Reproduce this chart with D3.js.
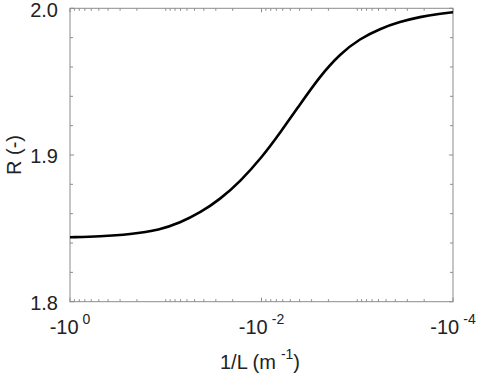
<!DOCTYPE html>
<html>
<head>
<meta charset="utf-8">
<script src="https://cdn.jsdelivr.net/npm/d3@7"></script>
<style>
  body { margin: 0; background: #fff; }
  text { font-family: "Liberation Sans", Arial, sans-serif; fill: #222; }
</style>
</head>
<body>
<svg width="479" height="374"></svg>
<script>
// 1/L values (m^-1), negative, log spaced
const invL = [-1, -0.486, -0.236, -0.1148, -0.0710, -0.0439, -0.0271, -0.01677, -0.00988,
  -0.00641, -0.00396, -0.00245, -0.00151, -0.000936, -0.000578, -0.000358, -0.000221, -0.000137, -0.0001];
const R = [1.8439, 1.8445, 1.8459, 1.8490, 1.8538, 1.8606, 1.8698, 1.8818, 1.8985,
  1.9150, 1.9345, 1.9538, 1.9690, 1.9793, 1.9861, 1.9908, 1.9942, 1.9963, 1.9973];
const xLabelTicks = [-1, -1e-2, -1e-4];
const xLabelExp = ["0", "-2", "-4"];
const yTicks = [1.8, 1.9, 2.0];

const svg = d3.select("svg");
const mLeft = 70, mRight = 453, mTop = 8.3, mBottom = 301.7;
const axisColor = "#8c8c8c";

const x = d3.scaleLog().domain([-1, -1e-4]).range([mLeft, mRight]);
const y = d3.scaleLinear().domain([1.8, 2.0]).range([mBottom, mTop]);

// box
svg.append("rect")
  .attr("x", mLeft).attr("y", mTop)
  .attr("width", mRight - mLeft).attr("height", mBottom - mTop)
  .attr("fill", "none").attr("stroke", axisColor).attr("stroke-width", 1);

// x ticks (bottom & top, inward)
const allX = x.ticks();
const isMajor = v => xLabelTicks.some(t => Math.abs(t - v) < 1e-12);
function xTicks(yPos, dir) {
  svg.append("g").selectAll("line").data(allX).enter().append("line")
    .attr("x1", d => x(d)).attr("x2", d => x(d))
    .attr("y1", yPos).attr("y2", d => yPos + dir * (isMajor(d) ? 4 : 2.5))
    .attr("stroke", axisColor).attr("stroke-width", 1);
}
xTicks(mBottom, -1);
xTicks(mTop, 1);

// y ticks (left & right, inward)
const yAll = d3.range(0, 11).map(i => 1.8 + i * 0.02);
function yTickLines(xPos, dir) {
  svg.append("g").selectAll("line").data(yAll).enter().append("line")
    .attr("y1", d => y(d)).attr("y2", d => y(d))
    .attr("x1", xPos).attr("x2", (d, i) => xPos + dir * (i % 5 === 0 ? 4 : 3))
    .attr("stroke", axisColor).attr("stroke-width", 1);
}
yTickLines(mLeft, 1);
yTickLines(mRight, -1);

// y tick labels
svg.append("g").selectAll("text").data(yTicks).enter().append("text")
  .attr("x", mLeft - 12).attr("y", d => y(d)).attr("dy", "0.42em")
  .attr("text-anchor", "end").attr("font-size", 20)
  .text(d3.format(".1f"));

// x tick labels with superscript exponents
const xl = svg.append("g").selectAll("text").data(xLabelTicks).enter().append("text")
  .attr("x", d => x(d)).attr("y", 334)
  .attr("text-anchor", "middle").attr("font-size", 20);
xl.append("tspan").text("-10");
xl.append("tspan").attr("dx", 4).attr("dy", -10).attr("font-size", 14)
  .text((d, i) => xLabelExp[i]);

// axis titles
const xt = svg.append("text").attr("x", 260).attr("y", 369)
  .attr("text-anchor", "middle").attr("font-size", 20);
xt.append("tspan").text("1/L (m");
xt.append("tspan").attr("dx", 5).attr("dy", -10).attr("font-size", 14).text("-1");
xt.append("tspan").attr("dy", 10).text(")");

svg.append("text")
  .attr("transform", `translate(21,${(mTop + mBottom) / 2}) rotate(-90)`)
  .attr("text-anchor", "middle").attr("font-size", 20)
  .text("R (-)");

// curve
const line = d3.line()
  .x((d, i) => x(invL[i]))
  .y(d => y(d))
  .curve(d3.curveBasis);

svg.append("path")
  .datum(R)
  .attr("fill", "none")
  .attr("stroke", "#000")
  .attr("stroke-width", 2.6)
  .attr("d", line);
</script>
</body>
</html>
